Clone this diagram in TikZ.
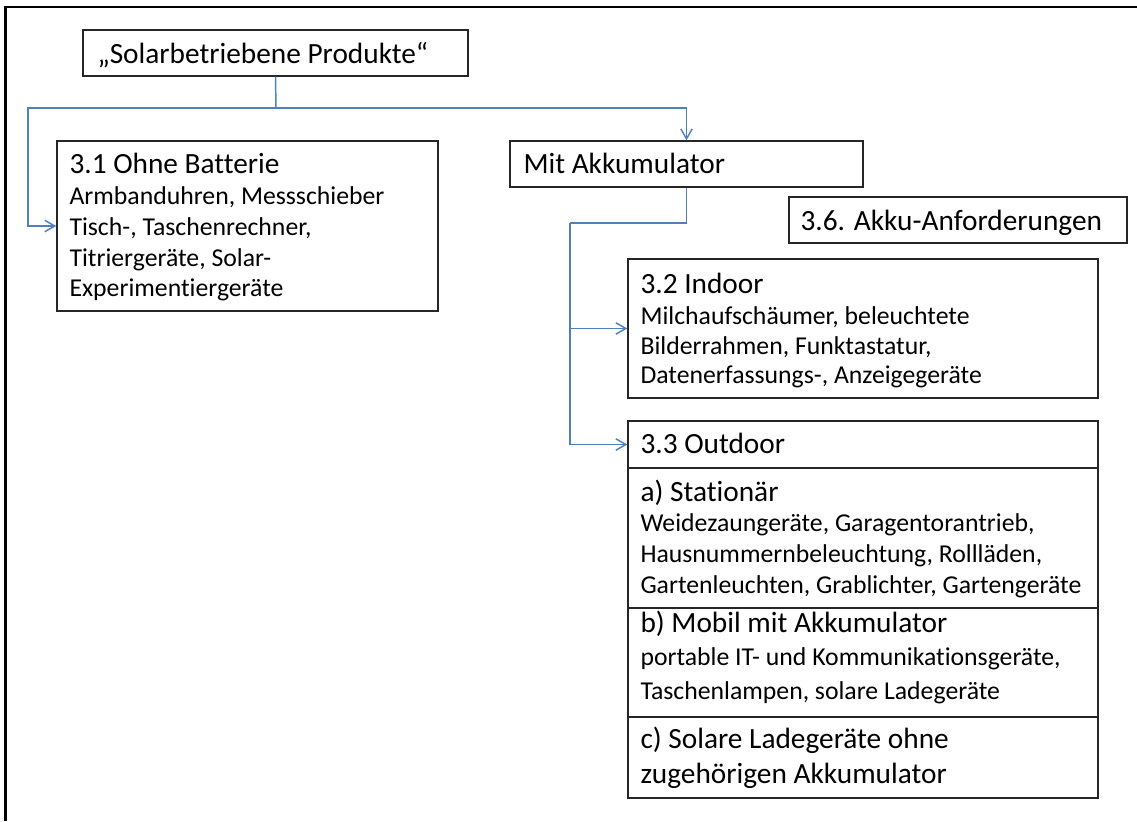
\documentclass[tikz,border=0pt]{standalone}
\usepackage{fontspec}
\setmainfont[Ligatures=NoCommon]{Carlito}
\usetikzlibrary{arrows.meta,fit}
\definecolor{linkblue}{RGB}{79,129,189}
\newcommand{\hdfont}{\fontsize{22}{26}\selectfont}
\newcommand{\txfont}{\fontsize{19.3}{23}\selectfont}
\tikzset{every picture/.style={line width=0.75pt}}

\begin{document}
\begin{tikzpicture}[x=0.75pt,y=0.75pt,yscale=-1,xscale=1,
  box/.style={draw=black!85,line width=1pt,inner sep=0pt},
  link/.style={draw=linkblue,line width=1.1pt},
  arr/.style={link,-{Straight Barb[length=7.5pt,width=8.5pt]}},
  ttl/.style={anchor=base west,inner sep=0pt,font=\hdfont},
  txt/.style={anchor=base west,inner sep=0pt,font=\txfont}]
\useasboundingbox (0,0) rectangle (1137,821);

%Frame
\draw[line width=2pt] (5.5,821) -- (5.5,7) -- (1137,7);

%Boxes
\node[box,fit={(83,30) (468,76)}] (root) {};
\node[box,fit={(57,141) (438,311)}] (ohne) {};
\node[box,fit={(510,141) (863,187)}] (mit) {};
\node[box,fit={(789,197) (1127,243)}] (akku) {};
\node[box,fit={(628,259) (1098,398)}] (indoor) {};
\node[box,fit={(628,421) (1098,468)}] (outdoor) {};
\node[box,fit={(628,468) (1098,608)}] (stat) {};
\node[box,fit={(628,608) (1098,717)}] (mobil) {};
\node[box,fit={(628,717) (1098,798)}] (lade) {};

% Text Node
\node[ttl] (roott) at (97,63) {„Solarbetriebene Produkte“};
% Text Node
\node[ttl] (ohne1) at (69,173) {3.1 Ohne Batterie};
\node[txt] (ohne2) at (69,204) {Armbanduhren, Messschieber};
\node[txt] (ohne3) at (69,235) {Tisch-, Taschenrechner,};
\node[txt] (ohne4) at (69,266) {Titriergeräte, Solar-};
\node[txt] (ohne5) at (69,296) {Experimentiergeräte};
% Text Node
\node[ttl] (mitt) at (523,173) {Mit Akkumulator};
% Text Node
\node[ttl] (akkut) at (800,230) {3.6. Akku-Anforderungen};
% Text Node
\node[ttl] (indoor1) at (640,293) {3.2 Indoor};
\node[txt] (indoor2) at (640,324) {Milchaufschäumer, beleuchtete};
\node[txt] (indoor3) at (640,354) {Bilderrahmen, Funktastatur,};
\node[txt] (indoor4) at (640,383) {Datenerfassungs-, Anzeigegeräte};
% Text Node
\node[ttl] (outdoort) at (640,453) {3.3 Outdoor};
% Text Node
\node[ttl] (stat1) at (640,501) {a) Stationär};
\node[txt] (stat2) at (640,531) {Weidezaungeräte, Garagentorantrieb,};
\node[txt] (stat3) at (640,562) {Hausnummernbeleuchtung, Rollläden,};
\node[txt] (stat4) at (640,593) {Gartenleuchten, Grablichter, Gartengeräte};
% Text Node
\node[ttl] (mobil1) at (640,632) {b) Mobil mit Akkumulator};
\node[txt] (mobil2) at (640,665) {portable IT- und Kommunikationsgeräte,};
\node[txt] (mobil3) at (640,699) {Taschenlampen, solare Ladegeräte};
% Text Node
\node[ttl] (lade1) at (640,748) {c) Solare Ladegeräte ohne};
\node[ttl] (lade2) at (640,783) {zugehörigen Akkumulator};

%Connectors
\coordinate (split) at (276,108);
\coordinate (lft) at (28,108);
\coordinate (bend) at (570,223);
\draw[link] (root.south) -- (split);
\draw[arr] (split) -| (mit.north);
\draw[arr] (split) -- (lft) |- (ohne.west);
\draw[link] (mit.south) |- (bend);
\draw[arr] (bend) |- (indoor.west);
\draw[arr] (bend) |- (outdoor.west);

\end{tikzpicture}
\end{document}
